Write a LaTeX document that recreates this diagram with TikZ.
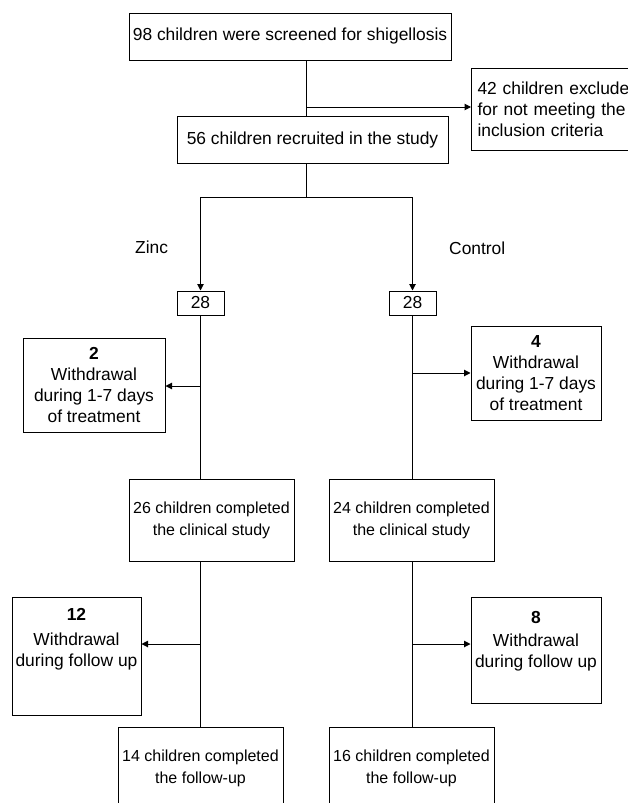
\documentclass[tikz,border=0pt]{standalone}
\usepackage{fontspec}
\setmainfont{Liberation Sans}
\usetikzlibrary{positioning,arrows.meta}
\tikzset{
  flowline/.style={line width=1pt},
  flowarrow/.style={line width=1pt, -{Triangle[length=6.5pt, width=6.5pt]}},
  stepbox/.style={draw, line width=1pt, align=center, inner sep=2pt, font=\fontsize{17.4}{21}\selectfont},
  countbox/.style={draw, line width=1pt, inner sep=1pt, minimum width=47pt, minimum height=24pt, font=\fontsize{17.4}{21}\selectfont},
  dropbox/.style={stepbox, minimum width=130pt},
  donebox/.style={stepbox, minimum width=165pt, minimum height=82pt, font=\fontsize{16}{22}\selectfont},
  armlabel/.style={anchor=west, inner sep=0pt, font=\fontsize{17.4}{21}\selectfont}
}
\begin{document}
\begin{tikzpicture}[x=1pt, y=-1pt]
  \useasboundingbox (0,0) rectangle (627,803);
  \node[stepbox, minimum width=322pt, minimum height=47pt] (screen) at (290,36.5) {98 children were screened for shigellosis};
  \node[stepbox, minimum width=271pt, minimum height=47pt] (recruit) at (312.5,139.5) {56 children recruited in the study};
  \node[stepbox, anchor=west, align=left, inner xsep=6pt, text width=180pt, minimum height=82pt] (exclude) at (471,109) {42 children excluded\\for not meeting the\\inclusion criteria};
  \coordinate (trunk) at (306,107);
  \coordinate (fork) at (306,197);
  \draw[flowline] (screen.south -| trunk) -- (recruit.north -| trunk);
  \draw[flowarrow] (trunk) -- (trunk -| exclude.west);

  \node[countbox] (zinc) at (200.5,303) {28};
  \node[countbox] (ctrl) at (412.5,303) {28};
  \node[armlabel] (zinclabel) at (135,247) {Zinc};
  \node[armlabel] (ctrllabel) at (449,248) {Control};
  \draw[flowline] (recruit.south -| fork) -- (fork);
  \draw[flowarrow] (fork) -| (zinc.north);
  \draw[flowarrow] (fork) -| (ctrl.north);

  \node[dropbox, minimum width=142pt, minimum height=94pt] (zincdrop) at (94,385) {\textbf{2}\\Withdrawal\\during 1-7 days\\of treatment};
  \node[dropbox, minimum height=94pt] (ctrldrop) at (536,373) {\textbf{4}\\Withdrawal\\during 1-7 days\\of treatment};
  \node[donebox] (zincdone) at (211.5,520) {26 children completed\\the clinical study};
  \node[donebox] (ctrldone) at (411.5,520) {24 children completed\\the clinical study};
  \coordinate (zinccut) at (200,386);
  \draw[flowline] (zinc.south) -- (zinc.south |- zincdone.north);
  \draw[flowline] (ctrl.south) -- (ctrl.south |- ctrldone.north);
  \draw[flowarrow] (zinccut) -- (zinccut -| zincdrop.east);
  \draw[flowarrow] (ctrl.south |- ctrldrop.west) -- (ctrldrop.west);

  \node[dropbox, minimum width=129pt, minimum height=118pt] (zinclost) at (76.5,656) {\textbf{12}\\[4pt]Withdrawal\\during follow up\\[17pt]~};
  \node[dropbox, minimum height=106pt] (ctrllost) at (536,650) {\textbf{8}\\[2pt]Withdrawal\\during follow up\\~};
  \node[donebox] (zincend) at (200.5,768) {14 children completed\\the follow-up};
  \node[donebox] (ctrlend) at (411.5,768) {16 children completed\\the follow-up};
  \coordinate (zincsplit) at (200,644);
  \coordinate (ctrlsplit) at (412,644);
  \draw[flowline] (zincdone.south -| zinc.south) -- (zincend.north -| zinc.south);
  \draw[flowline] (ctrldone.south -| ctrl.south) -- (ctrlend.north -| ctrl.south);
  \draw[flowarrow] (zincsplit) -- (zincsplit -| zinclost.east);
  \draw[flowarrow] (ctrlsplit) -- (ctrlsplit -| ctrllost.west);
\end{tikzpicture}
\end{document}
